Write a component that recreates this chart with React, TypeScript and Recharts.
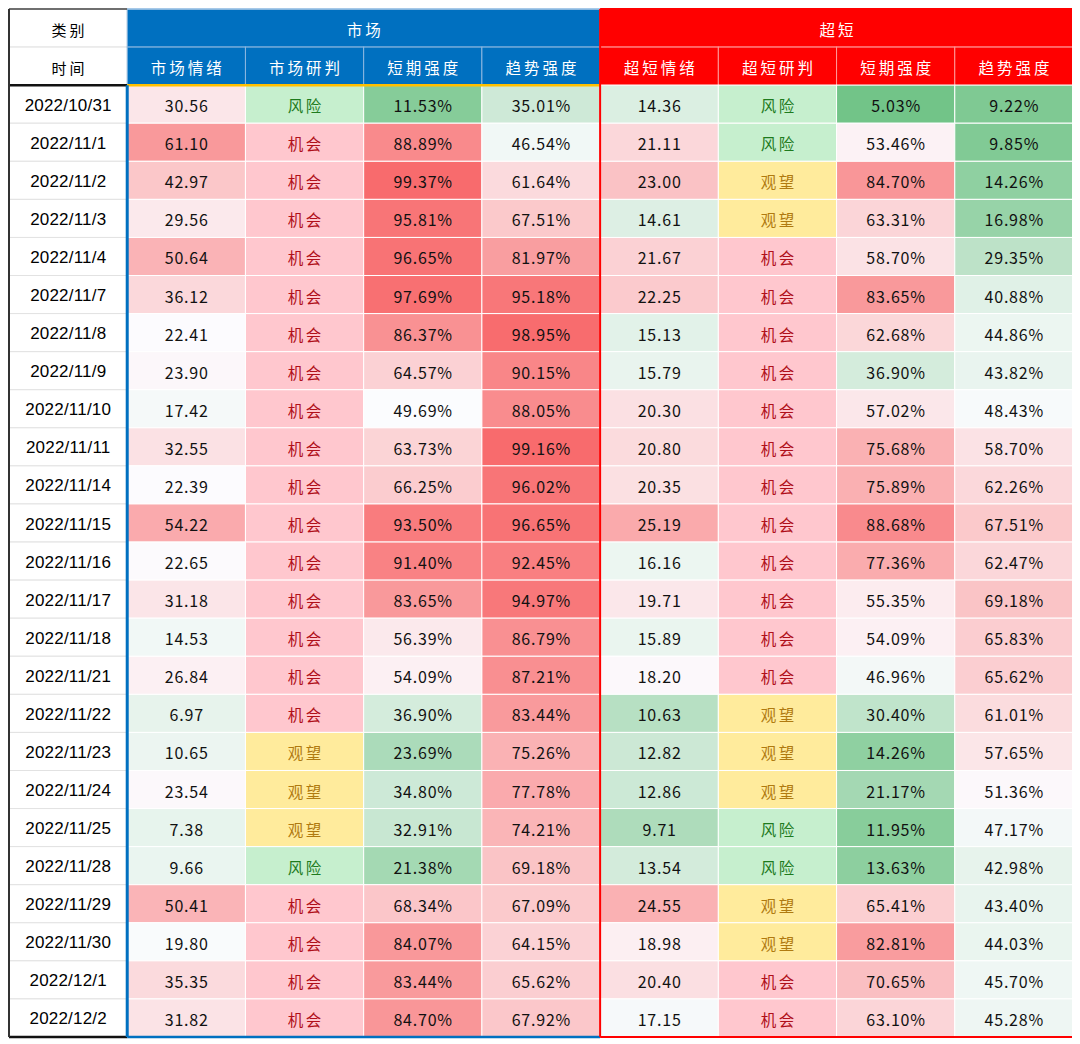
import { ScatterChart, Scatter, XAxis, YAxis, ReferenceLine } from 'recharts';

// ---- data ----
const DATES = [
  '2022/10/31', '2022/11/1', '2022/11/2', '2022/11/3', '2022/11/4', '2022/11/7', '2022/11/8',
  '2022/11/9', '2022/11/10', '2022/11/11', '2022/11/14', '2022/11/15', '2022/11/16', '2022/11/17',
  '2022/11/18', '2022/11/21', '2022/11/22', '2022/11/23', '2022/11/24', '2022/11/25', '2022/11/28',
  '2022/11/29', '2022/11/30', '2022/12/1', '2022/12/2',
];
const GROUPS = ['市场', '超短'];
const SUB_HEADERS = ['市场情绪', '市场研判', '短期强度', '趋势强度', '超短情绪', '超短研判', '短期强度', '趋势强度'];

const MKT_MOOD = [30.56, 61.10, 42.97, 29.56, 50.64, 36.12, 22.41, 23.90, 17.42, 32.55, 22.39, 54.22, 22.65, 31.18, 14.53, 26.84, 6.97, 10.65, 23.54, 7.38, 9.66, 50.41, 19.80, 35.35, 31.82];
const MKT_CALL = ['风险', '机会', '机会', '机会', '机会', '机会', '机会', '机会', '机会', '机会', '机会', '机会', '机会', '机会', '机会', '机会', '机会', '观望', '观望', '观望', '风险', '机会', '机会', '机会', '机会'];
const MKT_SHORT = [11.53, 88.89, 99.37, 95.81, 96.65, 97.69, 86.37, 64.57, 49.69, 63.73, 66.25, 93.50, 91.40, 83.65, 56.39, 54.09, 36.90, 23.69, 34.80, 32.91, 21.38, 68.34, 84.07, 83.44, 84.70];
const MKT_TREND = [35.01, 46.54, 61.64, 67.51, 81.97, 95.18, 98.95, 90.15, 88.05, 99.16, 96.02, 96.65, 92.45, 94.97, 86.79, 87.21, 83.44, 75.26, 77.78, 74.21, 69.18, 67.09, 64.15, 65.62, 67.92];

const ULT_MOOD = [14.36, 21.11, 23.00, 14.61, 21.67, 22.25, 15.13, 15.79, 20.30, 20.80, 20.35, 25.19, 16.16, 19.71, 15.89, 18.20, 10.63, 12.82, 12.86, 9.71, 13.54, 24.55, 18.98, 20.40, 17.15];
const ULT_CALL = ['风险', '风险', '观望', '观望', '机会', '机会', '机会', '机会', '机会', '机会', '机会', '机会', '机会', '机会', '机会', '机会', '观望', '观望', '观望', '风险', '风险', '观望', '观望', '机会', '机会'];
const ULT_SHORT = [5.03, 53.46, 84.70, 63.31, 58.70, 83.65, 62.68, 36.90, 57.02, 75.68, 75.89, 88.68, 77.36, 55.35, 54.09, 46.96, 30.40, 14.26, 21.17, 11.95, 13.63, 65.41, 82.81, 70.65, 63.10];
const ULT_TREND = [9.22, 9.85, 14.26, 16.98, 29.35, 40.88, 44.86, 43.82, 48.43, 58.70, 62.26, 67.51, 62.47, 69.18, 65.83, 65.62, 61.01, 57.65, 51.36, 47.17, 42.98, 43.40, 44.03, 45.70, 45.28];

// ---- styles ----
const PLOT_W = 1064;
const PLOT_H = 1028;
const COLS = 9;
const ROWS = 27;
const CELL_W = PLOT_W / COLS;
const CELL_H = PLOT_H / ROWS;

const BLUE = '#0070C0';
const RED = '#FF0000';
const CJK = '"Noto Sans CJK SC", sans-serif';
const NUM_FONT = '"Noto Sans CJK SC", sans-serif';

const GREEN_RGB = [99, 190, 123];
const WHITE_RGB = [252, 252, 255];
const RED_RGB = [248, 105, 107];

// color scale [lo, mid, hi] per kind of column
const MOOD_SCALE_MKT = [-85, 22, 80];
const MOOD_SCALE_ULT = [2, 17.8, 31];
const PCT_SCALE = [0, 50, 100];

const CALL_STYLE: Record<string, { bg: string; fg: string }> = {
  风险: { bg: '#C6EFCE', fg: '#1E7B1E' },
  机会: { bg: '#FFC7CE', fg: '#B0101A' },
  观望: { bg: '#FFEB9C', fg: '#B07A10' },
};

function mix(a: number[], b: number[], t: number) {
  const c = a.map((v, i) => Math.round(v + (b[i] - v) * t));
  return `rgb(${c[0]},${c[1]},${c[2]})`;
}

function heat(v: number, [lo, mid, hi]: number[]) {
  if (v >= mid) return mix(WHITE_RGB, RED_RGB, Math.min(1, (v - mid) / (hi - mid)));
  return mix(WHITE_RGB, GREEN_RGB, Math.min(1, (mid - v) / (mid - lo)));
}

type CellDatum = {
  x: number;
  y: number;
  span: number;
  kind: 'group' | 'sub' | 'corner' | 'date' | 'num' | 'call';
  text: string;
  fill: string;
  color: string;
  side?: 'mkt' | 'ult';
};

function buildCells(): CellDatum[] {
  const cells: CellDatum[] = [];
  const add = (col: number, row: number, c: Omit<CellDatum, 'x' | 'y' | 'span'>, span = 1) =>
    cells.push({ x: col + span / 2, y: row + 0.5, span, ...c });

  add(0, 0, { kind: 'corner', text: '类别', fill: '#fff', color: '#000' });
  add(0, 1, { kind: 'corner', text: '时间', fill: '#fff', color: '#000' });
  GROUPS.forEach((g, i) =>
    add(1 + i * 4, 0, { kind: 'group', text: g, fill: i === 0 ? BLUE : RED, color: '#fff', side: i === 0 ? 'mkt' : 'ult' }, 4),
  );
  SUB_HEADERS.forEach((s, i) =>
    add(1 + i, 1, { kind: 'sub', text: s, fill: i < 4 ? BLUE : RED, color: '#fff', side: i < 4 ? 'mkt' : 'ult' }),
  );

  DATES.forEach((d, r) => {
    const row = r + 2;
    add(0, row, { kind: 'date', text: d, fill: '#fff', color: '#000' });
    add(1, row, { kind: 'num', text: MKT_MOOD[r].toFixed(2), fill: heat(MKT_MOOD[r], MOOD_SCALE_MKT), color: '#111' });
    add(2, row, { kind: 'call', text: MKT_CALL[r], fill: CALL_STYLE[MKT_CALL[r]].bg, color: CALL_STYLE[MKT_CALL[r]].fg });
    add(3, row, { kind: 'num', text: MKT_SHORT[r].toFixed(2) + '%', fill: heat(MKT_SHORT[r], PCT_SCALE), color: '#111' });
    add(4, row, { kind: 'num', text: MKT_TREND[r].toFixed(2) + '%', fill: heat(MKT_TREND[r], PCT_SCALE), color: '#111' });
    add(5, row, { kind: 'num', text: ULT_MOOD[r].toFixed(2), fill: heat(ULT_MOOD[r], MOOD_SCALE_ULT), color: '#111' });
    add(6, row, { kind: 'call', text: ULT_CALL[r], fill: CALL_STYLE[ULT_CALL[r]].bg, color: CALL_STYLE[ULT_CALL[r]].fg });
    add(7, row, { kind: 'num', text: ULT_SHORT[r].toFixed(2) + '%', fill: heat(ULT_SHORT[r], PCT_SCALE), color: '#111' });
    add(8, row, { kind: 'num', text: ULT_TREND[r].toFixed(2) + '%', fill: heat(ULT_TREND[r], PCT_SCALE), color: '#111' });
  });
  return cells;
}

const CELLS = buildCells();

function CellShape(props: any) {
  const { cx, cy, payload } = props;
  const p = payload as CellDatum;
  const w = CELL_W * p.span;
  const h = CELL_H;
  const x = cx - w / 2;
  const y = cy - h / 2;

  let stroke = '#fff';
  let font = NUM_FONT;
  let size = 16;
  let spacing = 0.8;
  if (p.kind === 'date' || p.kind === 'corner') {
    stroke = '#E2E2E2';
    font = '"Liberation Sans", Arial, sans-serif';
    size = 17;
    spacing = 0.2;
  }
  if (p.kind === 'corner') {
    font = CJK;
    size = 15;
    spacing = 3;
  }
  if (p.kind === 'group' || p.kind === 'sub') {
    stroke = p.side === 'mkt' ? '#8DB8E0' : '#FF9A9A';
    font = CJK;
    size = 15.5;
    spacing = 3;
  }
  if (p.kind === 'call') {
    font = CJK;
    size = 15.5;
    spacing = 2.5;
  }

  return (
    <g>
      <rect x={x} y={y} width={w} height={h} fill={p.fill} stroke={stroke} strokeWidth={1} />
      <text
        x={cx + spacing / 2}
        y={cy + 1}
        textAnchor="middle"
        dominantBaseline="central"
        fill={p.color}
        fontFamily={font}
        fontSize={size}
        letterSpacing={spacing}
      >
        {p.text}
      </text>
    </g>
  );
}

type Seg = { from: [number, number]; to: [number, number]; color: string; width: number };
const BORDERS: Seg[] = [
  { from: [0, 0], to: [1, 0], color: '#444', width: 1.5 },
  { from: [0, 2], to: [1, 2], color: '#111', width: 2.5 },
  { from: [0, 27], to: [1, 27], color: '#111', width: 2.5 },
  { from: [0, 0], to: [0, 27], color: '#333', width: 2 },
  { from: [1, 0], to: [5, 0], color: '#9DC3E6', width: 1.5 },
  { from: [1, 2], to: [5, 2], color: '#FFC000', width: 2.5 },
  { from: [1, 2], to: [1, 27], color: BLUE, width: 3 },
  { from: [1, 27], to: [5, 27], color: BLUE, width: 2.5 },
  { from: [5, 0], to: [9, 0], color: RED, width: 2 },
  { from: [5, 27], to: [9, 27], color: RED, width: 2 },
  { from: [5, 0], to: [5, 27], color: RED, width: 2 },
  { from: [9, 0], to: [9, 27], color: RED, width: 2 },
];

export default function App() {
  return (
    <ScatterChart
      width={PLOT_W + 3}
      height={PLOT_H + 3}
      margin={{ top: 1, right: 2, bottom: 2, left: 1 }}
    >
      <XAxis type="number" dataKey="x" domain={[0, COLS]} hide />
      <YAxis type="number" dataKey="y" domain={[0, ROWS]} reversed hide />
      <Scatter data={CELLS} isAnimationActive={false} shape={(p: any) => <CellShape {...p} />} />
      {BORDERS.map((b, i) => (
        <ReferenceLine
          key={i}
          segment={[{ x: b.from[0], y: b.from[1] }, { x: b.to[0], y: b.to[1] }]}
          stroke={b.color}
          strokeWidth={b.width}
          ifOverflow="visible"
          zIndex={900}
        />
      ))}
    </ScatterChart>
  );
}
